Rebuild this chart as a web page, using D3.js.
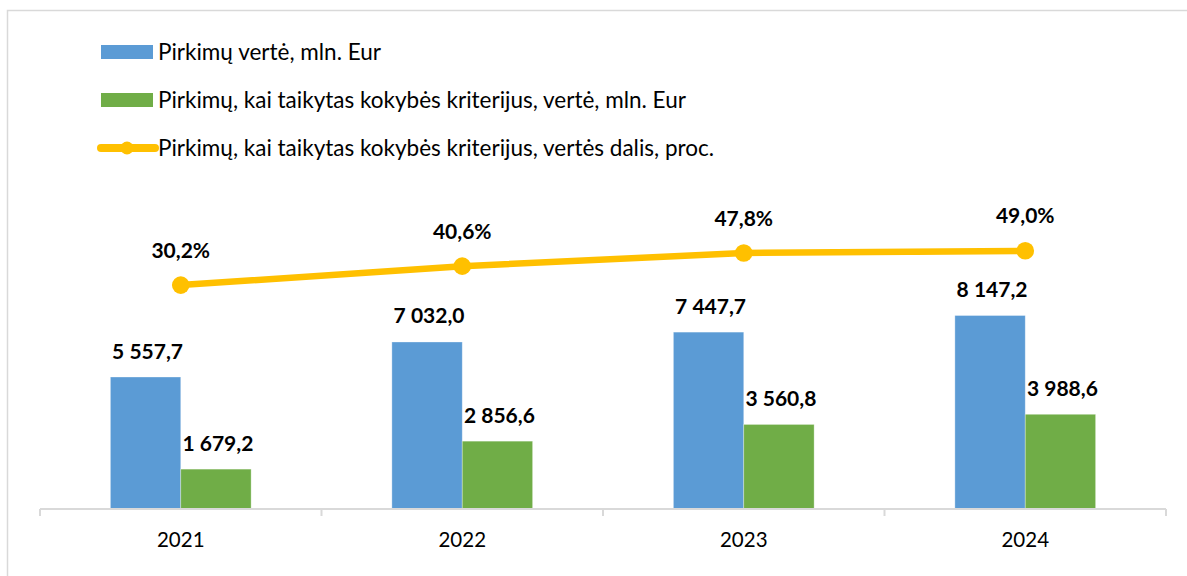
<!DOCTYPE html>
<html>
<head>
<meta charset="utf-8">
<script src="https://cdn.jsdelivr.net/npm/d3@7"></script>
<style>
  body { margin: 0; background: #fff; }
  text { font-family: Lato, "Open Sans", sans-serif; fill: #000; }
</style>
</head>
<body>
<script>
var years = ["2021", "2022", "2023", "2024"];
var totalValue = [5557.7, 7032.0, 7447.7, 8147.2];
var qualityValue = [1679.2, 2856.6, 3560.8, 3988.6];
var qualityShare = [30.2, 40.6, 47.8, 49.0];
var seriesNames = [
  "Pirkimų vertė, mln. Eur",
  "Pirkimų, kai taikytas kokybės kriterijus, vertė, mln. Eur",
  "Pirkimų, kai taikytas kokybės kriterijus, vertės dalis, proc."
];

var width = 1187, height = 576;
var colors = ["#5B9BD5", "#70AD47", "#FFC000"];
var axisY = 509;

var fmt = function(v) {
  var s = d3.format(",.1f")(v);
  return s.replace(/,/g, " ").replace(".", ",");
};

var svg = d3.select("body").append("svg")
    .attr("width", width)
    .attr("height", height);

// chart frame
svg.append("rect")
    .attr("x", 7.5).attr("y", 10.5)
    .attr("width", 1200).attr("height", 600)
    .attr("fill", "none")
    .attr("stroke", "#d9d9d9")
    .attr("stroke-width", 1.5);

var x = d3.scaleBand()
    .domain(years)
    .range([40, 1166]);

var x1 = d3.scaleBand()
    .domain([0, 1])
    .range([x.bandwidth() * 0.25, x.bandwidth() * 0.75]);

var y = d3.scaleLinear()
    .domain([0, 10000])
    .range([axisY, axisY - 237.5]);

var yPct = d3.scaleLinear()
    .domain([0, 100])
    .range([340.2, 157.8]);

var rows = years.map(function(d, i) {
  return { year: d, vals: [totalValue[i], qualityValue[i]], pct: qualityShare[i] };
});

// bars
var group = svg.selectAll(".year")
    .data(rows)
  .enter().append("g")
    .attr("class", "year")
    .attr("transform", function(d) { return "translate(" + x(d.year) + ",0)"; });

group.selectAll("rect")
    .data(function(d) { return d.vals; })
  .enter().append("rect")
    .attr("x", function(d, i) { return x1(i); })
    .attr("y", function(d) { return y(d); })
    .attr("width", x1.bandwidth())
    .attr("height", function(d) { return axisY - y(d); })
    .attr("fill", function(d, i) { return colors[i]; })
    .attr("stroke", "#fff")
    .attr("stroke-opacity", 0.4)
    .attr("stroke-width", 0.8);

group.selectAll("text.val")
    .data(function(d) { return d.vals; })
  .enter().append("text")
    .attr("class", "val")
    .attr("x", function(d, i) { return x1(i) + x1.bandwidth() / 2 + 2; })
    .attr("y", function(d) { return y(d) - 18.5; })
    .attr("text-anchor", "middle")
    .style("font-size", "21px")
    .style("font-weight", "bold")
    .text(fmt);

// axis
var axis = svg.append("g").attr("class", "x axis");
axis.append("line")
    .attr("x1", x.range()[0]).attr("x2", x.range()[1])
    .attr("y1", axisY).attr("y2", axisY)
    .attr("stroke", "#d9d9d9").attr("stroke-width", 2);

axis.selectAll("line.tick")
    .data(years.concat([null]))
  .enter().append("line")
    .attr("class", "tick")
    .attr("x1", function(d) { return d ? x(d) : x.range()[1]; })
    .attr("x2", function(d) { return d ? x(d) : x.range()[1]; })
    .attr("y1", axisY).attr("y2", axisY + 7)
    .attr("stroke", "#d9d9d9").attr("stroke-width", 2);

axis.selectAll("text")
    .data(years)
  .enter().append("text")
    .attr("x", function(d) { return x(d) + x.bandwidth() / 2; })
    .attr("y", 547)
    .attr("text-anchor", "middle")
    .style("font-size", "20.5px")
    .text(function(d) { return d; });

// share line
var cx = function(d) { return x(d.year) + x.bandwidth() / 2; };

var line = d3.line()
    .x(cx)
    .y(function(d) { return yPct(d.pct); });

svg.append("path")
    .datum(rows)
    .attr("d", line)
    .attr("fill", "none")
    .attr("stroke", colors[2])
    .attr("stroke-width", 6.5)
    .attr("stroke-linejoin", "round");

svg.selectAll("circle.pt")
    .data(rows)
  .enter().append("circle")
    .attr("class", "pt")
    .attr("cx", cx)
    .attr("cy", function(d) { return yPct(d.pct); })
    .attr("r", 8.8)
    .attr("fill", colors[2]);

svg.selectAll("text.pct")
    .data(rows)
  .enter().append("text")
    .attr("class", "pct")
    .attr("x", cx)
    .attr("y", function(d) { return yPct(d.pct) - 27.5; })
    .attr("text-anchor", "middle")
    .style("font-size", "21px")
    .style("font-weight", "bold")
    .text(function(d) { return fmt(d.pct).replace(/\s/g, "") + "%"; });

// legend
var legend = svg.selectAll("g.legend")
    .data(seriesNames)
  .enter().append("g")
    .attr("class", "legend")
    .attr("transform", function(d, i) { return "translate(101," + (52 + i * 48) + ")"; });

legend.filter(function(d, i) { return i < 2; })
  .append("rect")
    .attr("x", 0).attr("y", -7)
    .attr("width", 52).attr("height", 14)
    .attr("fill", function(d, i) { return colors[i]; });

var lineKey = legend.filter(function(d, i) { return i === 2; });
lineKey.append("line")
    .attr("x1", 0).attr("x2", 54)
    .attr("stroke", colors[2])
    .attr("stroke-width", 8)
    .attr("stroke-linecap", "round");
lineKey.append("circle")
    .attr("cx", 26).attr("r", 6.5)
    .attr("fill", colors[2]);

legend.append("text")
    .attr("x", 57)
    .attr("y", 7.5)
    .style("font-size", "22.5px")
    .text(String);
</script>
</body>
</html>
